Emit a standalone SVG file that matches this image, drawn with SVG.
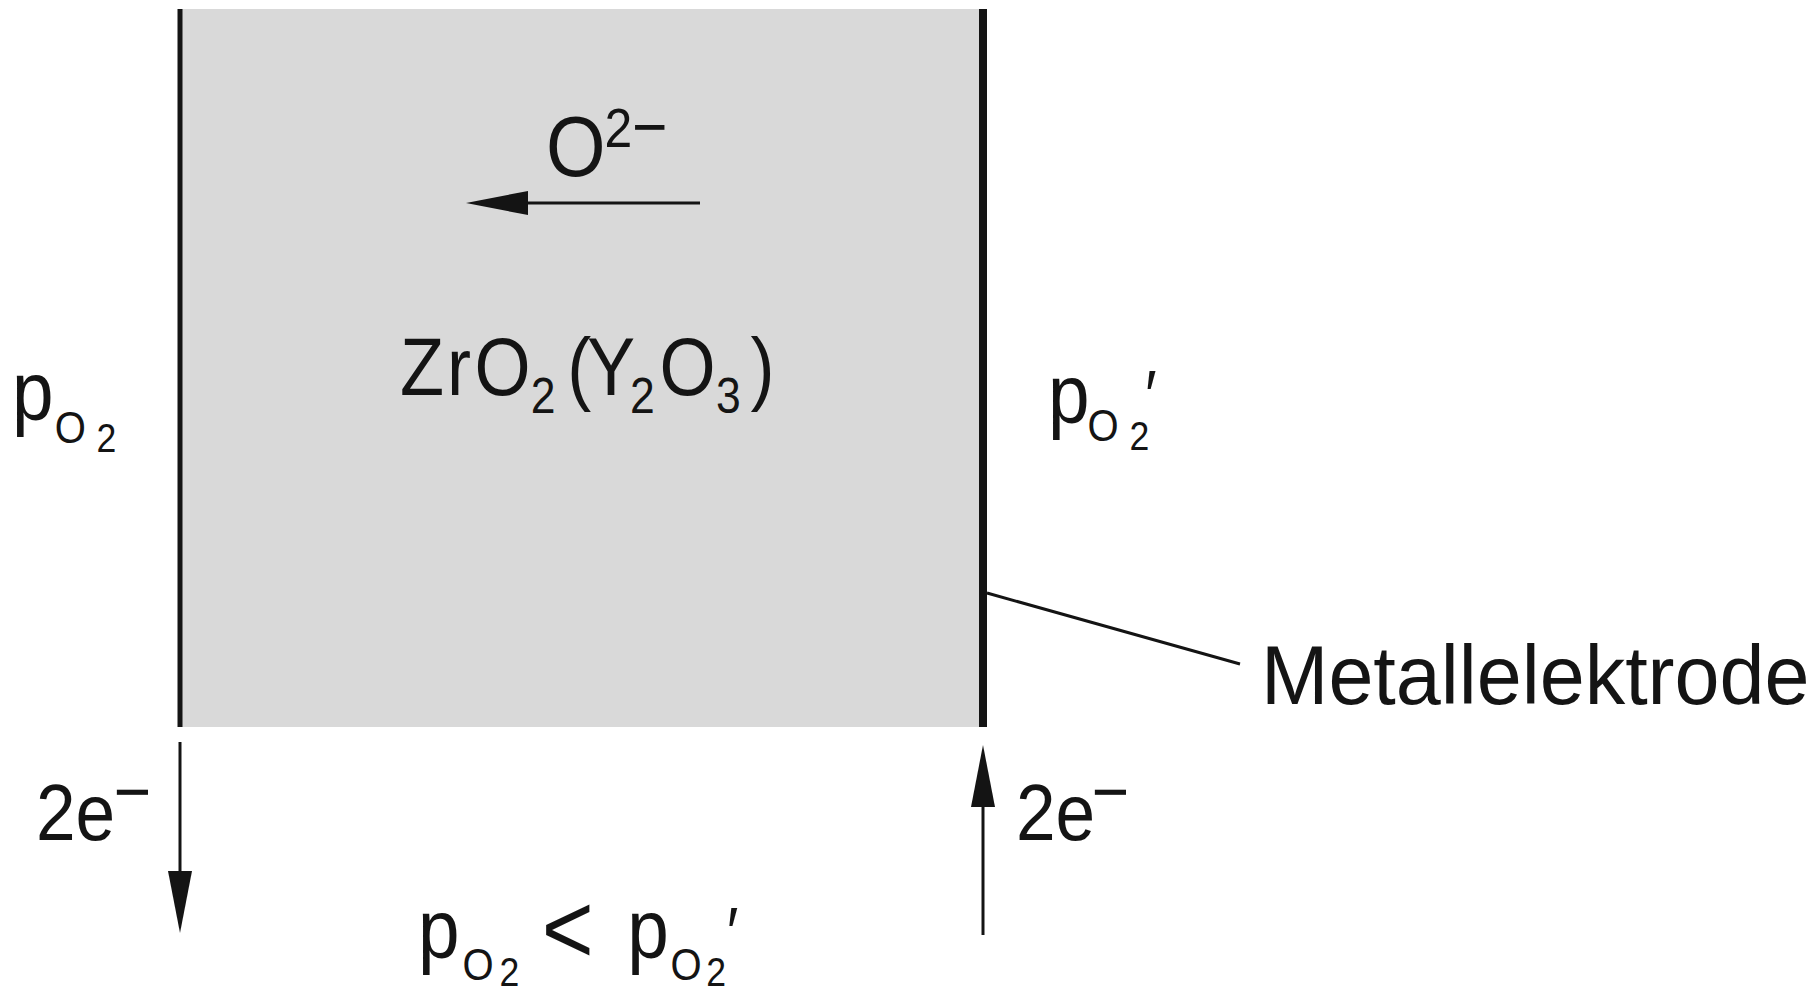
<svg xmlns="http://www.w3.org/2000/svg" width="1814" height="991" viewBox="0 0 1814 991">
<style>
.t{font-family:"Liberation Sans",Arial,sans-serif;fill:#141414;}
.ln{stroke:#141414;fill:none;}
.conn{stroke:#141414;stroke-width:3;fill:none;}
.so{font-size:45px;}
.s2{font-size:40px;}
.pr{font-size:70px;}
</style>
<defs>
<marker id="ah" markerUnits="userSpaceOnUse" viewBox="0 0 62 24" refX="10" refY="12" markerWidth="62" markerHeight="24" orient="auto">
<path d="M0,0 L62,12 L0,24 Z" fill="#141414"/>
</marker>
</defs>
<rect width="1814" height="991" fill="#fff"/>
<g id="cell">
<rect x="180" y="9" width="803" height="718" fill="#d9d9d9"/>
<line class="ln" x1="180" y1="9" x2="180" y2="727" stroke-width="5"/>
<line class="ln" x1="983" y1="9" x2="983" y2="727" stroke-width="8"/>
</g>
<g id="label-o2minus">
<text class="t" transform="translate(546,176) scale(0.89,1)" font-size="86"><tspan x="0" y="0">O</tspan><tspan x="65.7" y="-29" font-size="56">2</tspan><tspan x="97" y="-26" font-size="68">−</tspan></text>
</g>
<g id="label-zro2">
<text class="t" transform="translate(400,395) scale(0.89,1)" font-size="81"><tspan x="0" y="0">Z</tspan><tspan x="52.8" y="0">r</tspan><tspan x="83.6" y="0">O</tspan><tspan x="147" y="18" font-size="50">2</tspan><tspan x="188" y="0">(</tspan><tspan x="210" y="0">Y</tspan><tspan x="258.4" y="18" font-size="50">2</tspan><tspan x="291.5" y="0">O</tspan><tspan x="355" y="18" font-size="50">3</tspan><tspan x="393.8" y="0">)</tspan></text>
</g>
<g id="label-po2-left">
<text class="t" transform="translate(12,420) scale(0.89,1)" font-size="84"><tspan x="0" y="0">p</tspan><tspan class="so" x="48" y="23">O</tspan><tspan class="s2" x="95" y="32">2</tspan></text>
</g>
<g id="label-po2-right">
<text class="t" transform="translate(1048,423) scale(0.89,1)" font-size="84"><tspan x="0" y="0">p</tspan><tspan class="so" x="44.5" y="18">O</tspan><tspan class="s2" x="91.5" y="27">2</tspan><tspan class="pr" x="109" y="-3">′</tspan></text>
</g>
<g id="label-metallelektrode">
<text class="t" transform="translate(1261,704) scale(0.963,1)" x="0" y="0" font-size="84">Metallelektrode</text>
</g>
<g id="label-2e-left">
<text class="t" transform="translate(36,840) scale(0.89,1)" font-size="80"><tspan x="0" y="0">2e</tspan><tspan x="87" y="-24" font-size="72">−</tspan></text>
</g>
<g id="label-2e-right">
<text class="t" transform="translate(1016,840) scale(0.89,1)" font-size="80"><tspan x="0" y="0">2e</tspan><tspan x="84.8" y="-24" font-size="72">−</tspan></text>
</g>
<g id="label-condition">
<text class="t" transform="translate(418,958) scale(0.89,1)" font-size="84"><tspan x="0" y="0">p</tspan><tspan class="so" x="50" y="22">O</tspan><tspan class="s2" x="91.5" y="28">2</tspan><tspan x="139" y="5" font-size="100">&lt;</tspan><tspan x="235" y="0">p</tspan><tspan class="so" x="283.7" y="22">O</tspan><tspan class="s2" x="324" y="28">2</tspan><tspan class="pr" x="347" y="-1">′</tspan></text>
</g>
<g id="connectors">
<line class="conn" x1="700" y1="203" x2="518" y2="203" marker-end="url(#ah)"/>
<line class="conn" x1="180" y1="742" x2="180" y2="881" marker-end="url(#ah)"/>
<line class="conn" x1="983" y1="935" x2="983" y2="797" marker-end="url(#ah)"/>
<line class="conn" x1="987" y1="593" x2="1240" y2="664" stroke-width="2"/>
</g>
</svg>
